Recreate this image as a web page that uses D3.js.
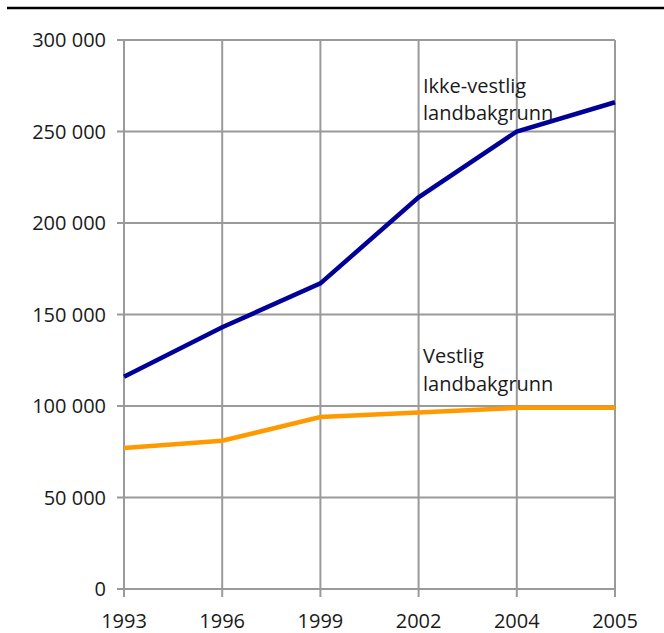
<!DOCTYPE html>
<html><head><meta charset="utf-8">
<script src="https://cdn.jsdelivr.net/npm/d3@7"></script>
<style>body{margin:0;background:#fff}svg{display:block}text{font-family:"Open Sans",sans-serif;fill:#1a1a1a}</style>
</head><body>
<svg id="c" width="664" height="633"></svg>
<script>
const years = ["1993","1996","1999","2002","2004","2005"];
const ikkeVestlig = [116000, 143000, 167000, 214000, 250000, 266000];
const vestlig = [77000, 81000, 94000, 96500, 99000, 99000];
const yTicks = [0, 50000, 100000, 150000, 200000, 250000, 300000];
const seriesNames = [["Ikke-vestlig","landbakgrunn"],["Vestlig","landbakgrunn"]];
const colors = ["#000099","#ff9900"];

(function(){
const svg = d3.select("#c");
const pL = 124, pR = 615, pT = 40, pB = 589;
const fs = 20;
const x = d3.scalePoint().domain(years).range([pL, pR]);
const y = d3.scaleLinear().domain([0, 300000]).range([pB, pT]);
const grid = "#9a9a9a";

svg.append("line").attr("x1",7).attr("x2",664).attr("y1",8).attr("y2",8)
  .attr("stroke","#000").attr("stroke-width",2.5);

svg.append("g").selectAll("line").data(yTicks).join("line")
  .attr("x1", pL-7).attr("x2", pR).attr("y1", d=>y(d)).attr("y2", d=>y(d))
  .attr("stroke", grid).attr("stroke-width", 2);
svg.append("g").selectAll("line").data(years).join("line")
  .attr("x1", d=>x(d)).attr("x2", d=>x(d)).attr("y1", pT).attr("y2", pB+8)
  .attr("stroke", grid).attr("stroke-width", 2);

const fmt = d => d3.format(",")(d).replace(/,/g, " ");
svg.append("g").selectAll("text").data(yTicks).join("text")
  .attr("x", 106).attr("y", d=>y(d)).attr("dy","0.35em").attr("text-anchor","end")
  .attr("font-size", fs).text(fmt);
svg.append("g").selectAll("text").data(years).join("text")
  .attr("x", d=>x(d)).attr("y", 628).attr("text-anchor","middle")
  .attr("font-size", fs).text(d=>d);

const line = d3.line().x((d,i)=>x(years[i])).y(d=>y(d));
[ikkeVestlig, vestlig].forEach((s,k)=>{
  svg.append("path").attr("d", line(s)).attr("fill","none")
    .attr("stroke", colors[k]).attr("stroke-width", 4.5).attr("stroke-linejoin","miter");
});

const labelPos = [[423, 92.5],[423, 363]];
seriesNames.forEach((lines,k)=>{
  lines.forEach((t,i)=>{
    svg.append("text").attr("x", labelPos[k][0]).attr("y", labelPos[k][1] + i*27.5)
      .attr("font-size", fs).text(t);
  });
});
})();
</script>
</body></html>
